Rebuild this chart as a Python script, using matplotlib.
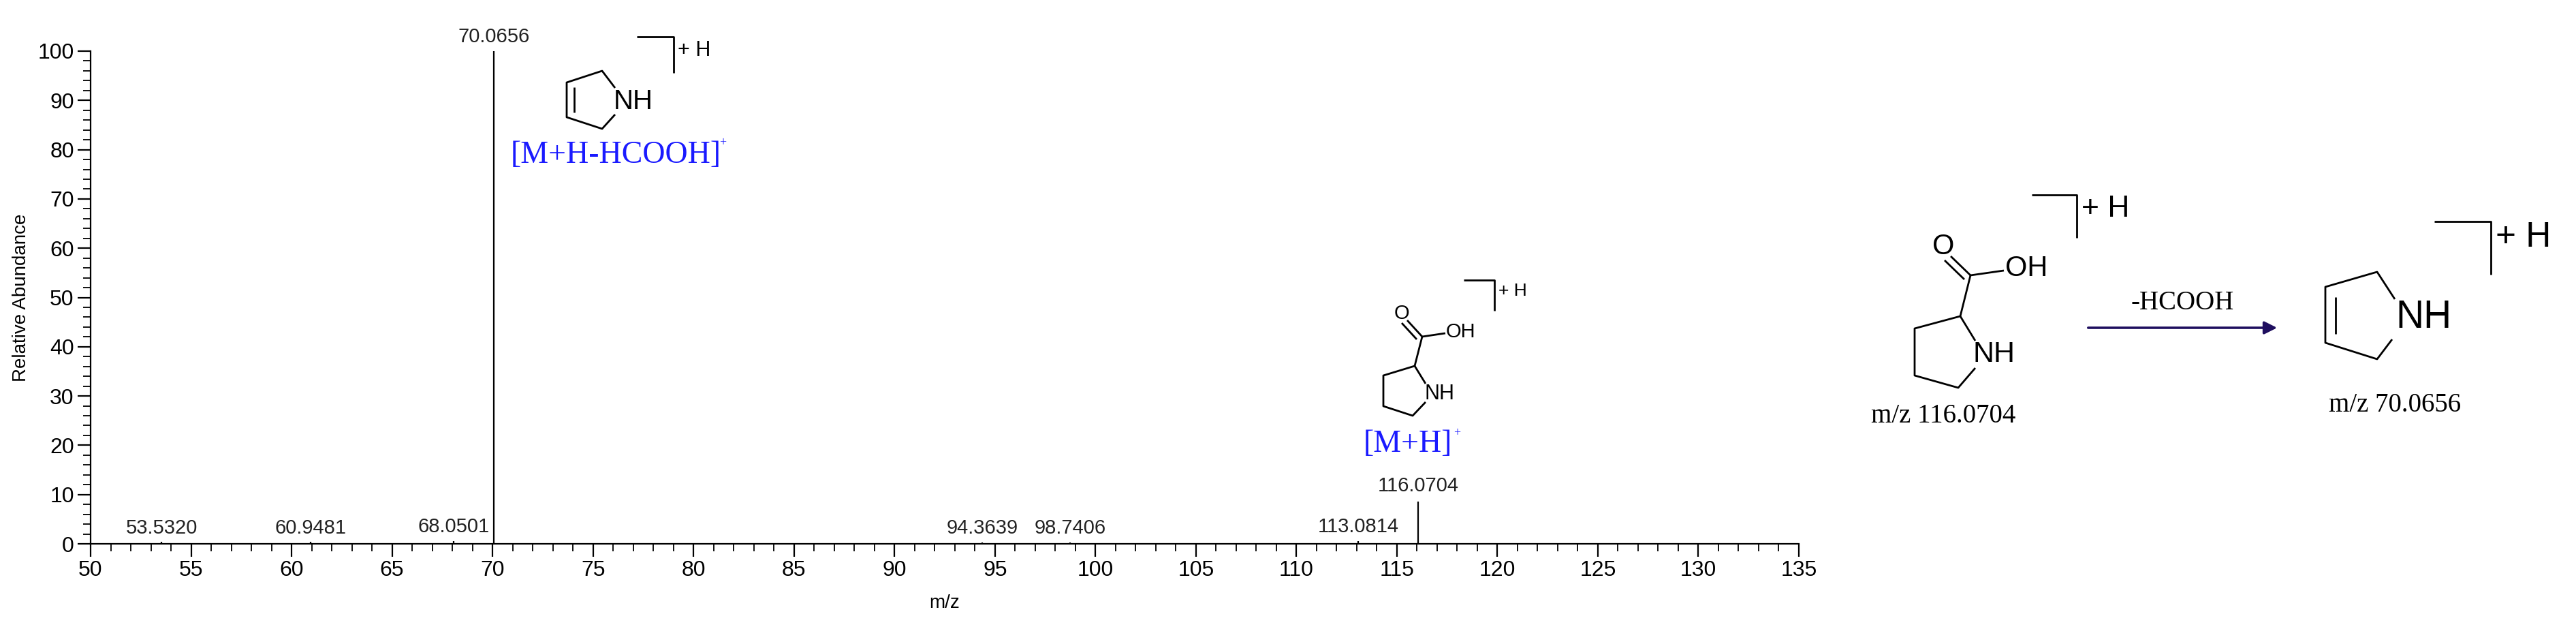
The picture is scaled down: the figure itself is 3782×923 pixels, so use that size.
import matplotlib
matplotlib.use("Agg")
import matplotlib.pyplot as plt
from matplotlib.ticker import MultipleLocator

mz = [53.5320, 60.9481, 68.0501, 70.0656, 94.3639, 98.7406, 113.0814, 116.0704]
abundance = [0.4, 0.4, 0.6, 100.0, 0.3, 0.3, 0.6, 8.6]
peak_labels = ["53.5320", "60.9481", "68.0501", "70.0656", "94.3639", "98.7406", "113.0814", "116.0704"]
label_offset = [0.9, 0.9, 0.9, 1.0, 0.9, 0.9, 0.9, 1.2]

SANS = "Liberation Sans"
SERIF = "Liberation Serif"
W, H = 3782, 923
fig = plt.figure(figsize=(W / 100, H / 100), dpi=100)
ax = fig.add_axes([133 / W, 1 - 798 / H, (2641 - 133) / W, (798 - 75) / H])
ax.vlines(mz, 0, abundance, color="black", lw=1.6)
for x, y, t, o in zip(mz, abundance, peak_labels, label_offset):
    ax.text(x, y + o, t, ha="center", va="bottom", fontsize=21, family=SANS, color="#222222")
ax.set_xlim(50, 135)
ax.set_ylim(0, 100)
ax.xaxis.set_major_locator(MultipleLocator(5))
ax.xaxis.set_minor_locator(MultipleLocator(1))
ax.yaxis.set_major_locator(MultipleLocator(10))
ax.yaxis.set_minor_locator(MultipleLocator(2))
for s in ["top", "right"]:
    ax.spines[s].set_visible(False)
for s in ["left", "bottom"]:
    ax.spines[s].set_linewidth(1.6)
ax.tick_params(which="major", length=14, width=1.6, labelsize=23, direction="out")
ax.tick_params(which="minor", length=8, width=1.3, direction="out")
for lab in ax.get_xticklabels() + ax.get_yticklabels():
    lab.set_family(SANS)
ax.set_xlabel("m/z", fontsize=20, family=SANS, labelpad=14)
ax.set_ylabel("Relative Abundance", fontsize=20, family=SANS, labelpad=8)

# overlay for structures (pixel coordinates)
ov = fig.add_axes([0, 0, 1, 1], facecolor="none")
ov.set_xlim(0, W)
ov.set_ylim(H, 0)
ov.axis("off")
lw = 2.0

def line(pts, lw=lw):
    xs, ys = zip(*pts)
    ov.plot(xs, ys, color="black", lw=lw, solid_capstyle="butt")

def txt(x, y, s, size, fam=SANS, color="black", ha="center"):
    ov.text(x, y, s, fontsize=size, family=fam, color=color, ha=ha, va="center")

BLUE = "#1a1aff"

# pyrroline in spectrum
line([(903, 168), (884, 189), (832, 172), (832, 121), (884, 104), (903, 129)])
line([(843, 128), (843, 165)])
txt(901, 149, "NH", 29, ha="left")
line([(935, 54), (989, 54), (989, 107)])
txt(995, 74, "+ H", 22, ha="left")
txt(750, 228, "[M+H-HCOOH]", 33, fam=SERIF, color=BLUE, ha="left")
txt(1056, 210, "+", 13, fam=SERIF, color=BLUE, ha="left")

# proline in spectrum
line([(2093, 590), (2074, 610), (2031, 596), (2031, 551), (2077, 537), (2093, 563)])
line([(2077, 537), (2088, 494)])
line([(2088, 494), (2066, 470)])
line([(2080, 498), (2058, 474)])
line([(2088, 494), (2122, 489)])
txt(2058, 460, "O", 21)
txt(2123, 487, "OH", 21, ha="left")
txt(2091, 578, "NH", 22, ha="left")
line([(2149, 411), (2194, 411), (2194, 456)])
txt(2200, 427, "+ H", 19, ha="left")
txt(2002, 652, "[M+H]", 33, fam=SERIF, color=BLUE, ha="left")
txt(2134, 636, "+", 13, fam=SERIF, color=BLUE, ha="left")

# proline right
line([(2900, 540), (2875, 569), (2811, 551), (2811, 482), (2878, 464), (2900, 500)])
line([(2878, 464), (2893, 404)])
line([(2893, 404), (2864, 376)])
line([(2884, 410), (2855, 382)])
line([(2893, 404), (2942, 397)])
txt(2853, 362, "O", 30)
txt(2944, 394, "OH", 30, ha="left")
txt(2897, 520, "NH", 31, ha="left")
line([(2983, 286), (3049, 286), (3049, 349)])
txt(3056, 306, "+ H", 32, ha="left")
txt(2853, 610, "m/z 116.0704", 28, fam=SERIF)

# arrow
ov.annotate("", xy=(3346, 481), xytext=(3063, 481),
            arrowprops=dict(arrowstyle="-|>", color="#1f0f5f", lw=2.6, mutation_scale=28))
txt(3204, 444, "-HCOOH", 28, fam=SERIF)

# pyrroline right
line([(3512, 498), (3490, 527), (3414, 503), (3414, 421), (3490, 399), (3516, 439)])
line([(3429, 436), (3429, 490)])
txt(3517, 466, "NH", 41, ha="left")
line([(3574, 325), (3657, 325), (3657, 403)])
txt(3664, 349, "+ H", 37, ha="left")
txt(3516, 595, "m/z 70.0656", 28, fam=SERIF)

fig.savefig("out.png", dpi=100)
